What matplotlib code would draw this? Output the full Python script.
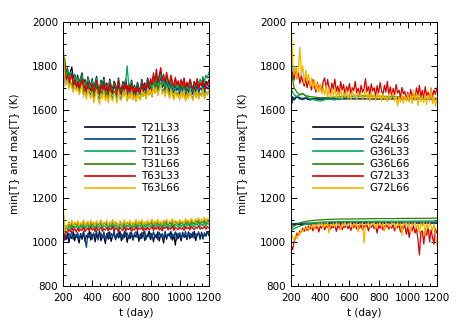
import numpy as np
import matplotlib
matplotlib.use('Agg')
import matplotlib.pyplot as plt
from matplotlib.ticker import MultipleLocator

# time axes (days)
t = np.arange(200, 1201, 10)
t_smooth = [200, 205, 210, 220, 240, 260, 280, 300, 330, 360, 400, 450,
            500, 550, 600, 700, 800, 900, 1000, 1100, 1200]

colors = ['#000028', '#00407f', '#00a84f', '#2f7f00', '#d80000', '#f2b400']

# left panel: spectral models, max{T}
left_names = ['T21L33', 'T21L66', 'T31L33', 'T31L66', 'T63L33', 'T63L66']
T21L33_max = [1770, 1835, 1765, 1790, 1748, 1772, 1795, 1740, 1762, 1730,
              1758, 1722, 1745, 1768, 1715, 1738, 1702, 1750, 1726, 1710,
              1742, 1698, 1725, 1752, 1705, 1690, 1735, 1712, 1748, 1700,
              1722, 1688, 1740, 1708, 1695, 1730, 1715, 1685, 1745, 1702,
              1690, 1728, 1710, 1740, 1685, 1720, 1698, 1735, 1690, 1712,
              1682, 1725, 1700, 1690, 1738, 1705, 1722, 1695, 1745, 1712,
              1730, 1702, 1755, 1720, 1765, 1712, 1748, 1770, 1725, 1740,
              1710, 1752, 1728, 1705, 1745, 1718, 1698, 1738, 1710, 1725,
              1695, 1732, 1708, 1740, 1690, 1722, 1700, 1735, 1715, 1692,
              1728, 1705, 1740, 1698, 1722, 1712, 1745, 1700, 1730, 1718,
              1735]
T21L66_max = [1655, 1790, 1735, 1760, 1720, 1745, 1768, 1712, 1738, 1705,
              1730, 1698, 1722, 1745, 1690, 1715, 1680, 1728, 1702, 1688,
              1720, 1675, 1702, 1730, 1684, 1668, 1712, 1690, 1726, 1678,
              1700, 1665, 1718, 1686, 1672, 1708, 1694, 1662, 1722, 1680,
              1668, 1706, 1688, 1718, 1662, 1698, 1676, 1712, 1668, 1690,
              1660, 1702, 1678, 1668, 1715, 1682, 1700, 1672, 1722, 1690,
              1708, 1680, 1732, 1698, 1742, 1690, 1725, 1748, 1702, 1718,
              1688, 1730, 1705, 1682, 1722, 1695, 1676, 1715, 1688, 1702,
              1672, 1710, 1686, 1718, 1668, 1700, 1678, 1712, 1692, 1670,
              1705, 1682, 1718, 1676, 1700, 1690, 1722, 1678, 1708, 1695,
              1712]
T31L33_max = [1880, 1810, 1752, 1785, 1738, 1770, 1745, 1722, 1760, 1732,
              1748, 1715, 1740, 1760, 1708, 1730, 1695, 1745, 1718, 1702,
              1735, 1690, 1718, 1745, 1698, 1682, 1728, 1705, 1740, 1692,
              1715, 1680, 1732, 1700, 1688, 1722, 1708, 1678, 1738, 1695,
              1682, 1720, 1702, 1732, 1800, 1712, 1690, 1728, 1682, 1705,
              1675, 1718, 1692, 1684, 1730, 1698, 1715, 1688, 1738, 1705,
              1722, 1695, 1748, 1712, 1758, 1705, 1740, 1762, 1718, 1732,
              1702, 1745, 1720, 1698, 1738, 1710, 1690, 1730, 1702, 1718,
              1688, 1725, 1700, 1732, 1684, 1715, 1694, 1728, 1708, 1686,
              1722, 1700, 1735, 1712, 1740, 1720, 1752, 1730, 1758, 1745,
              1770]
T31L66_max = [1850, 1770, 1718, 1748, 1705, 1730, 1712, 1690, 1722, 1698,
              1712, 1680, 1705, 1725, 1672, 1695, 1662, 1708, 1682, 1668,
              1700, 1655, 1682, 1708, 1662, 1648, 1690, 1670, 1704, 1658,
              1680, 1646, 1696, 1666, 1652, 1686, 1672, 1642, 1700, 1660,
              1648, 1686, 1668, 1696, 1642, 1676, 1656, 1690, 1648, 1670,
              1640, 1682, 1658, 1648, 1694, 1662, 1680, 1652, 1700, 1668,
              1686, 1660, 1710, 1676, 1720, 1668, 1704, 1722, 1680, 1695,
              1666, 1706, 1684, 1660, 1700, 1672, 1652, 1692, 1664, 1680,
              1650, 1688, 1662, 1694, 1646, 1678, 1656, 1690, 1668, 1648,
              1682, 1660, 1694, 1652, 1676, 1664, 1698, 1654, 1684, 1670,
              1688]
T63L33_max = [1810, 1775, 1738, 1762, 1722, 1748, 1765, 1712, 1736, 1705,
              1730, 1698, 1722, 1742, 1690, 1712, 1684, 1728, 1700, 1688,
              1718, 1680, 1704, 1732, 1688, 1676, 1715, 1694, 1728, 1684,
              1705, 1675, 1722, 1692, 1680, 1714, 1700, 1672, 1730, 1688,
              1678, 1712, 1695, 1724, 1674, 1706, 1686, 1720, 1678, 1698,
              1672, 1708, 1688, 1680, 1722, 1694, 1712, 1686, 1735, 1705,
              1742, 1715, 1768, 1728, 1785, 1722, 1760, 1792, 1735, 1762,
              1725, 1770, 1740, 1712, 1758, 1728, 1702, 1748, 1716, 1732,
              1698, 1738, 1712, 1745, 1694, 1726, 1704, 1740, 1716, 1692,
              1728, 1702, 1742, 1696, 1720, 1708, 1738, 1694, 1722, 1710,
              1730]
T63L66_max = [1905, 1760, 1712, 1738, 1695, 1722, 1700, 1678, 1712, 1685,
              1700, 1668, 1690, 1712, 1658, 1682, 1648, 1692, 1666, 1652,
              1680, 1632, 1662, 1690, 1645, 1625, 1672, 1650, 1688, 1640,
              1665, 1632, 1682, 1652, 1640, 1676, 1660, 1630, 1690, 1648,
              1642, 1680, 1660, 1692, 1638, 1672, 1652, 1688, 1644, 1666,
              1640, 1678, 1654, 1645, 1690, 1660, 1676, 1650, 1698, 1668,
              1690, 1664, 1712, 1678, 1702, 1666, 1692, 1715, 1672, 1688,
              1660, 1700, 1676, 1652, 1694, 1666, 1645, 1686, 1658, 1674,
              1644, 1682, 1656, 1690, 1640, 1672, 1650, 1684, 1662, 1642,
              1678, 1654, 1690, 1648, 1672, 1660, 1694, 1650, 1680, 1666,
              1690]

# left panel: min{T}
T21L33_min = [1000, 1035, 1010, 1042, 998, 1028, 1015, 1046, 1005, 1032,
              1020, 995, 1038, 1012, 1044, 1002, 1030, 1018, 1048, 1008,
              1026, 1040, 1000, 1034, 1015, 1050, 1005, 1030, 1022, 992,
              1038, 1012, 1045, 1002, 1028, 1040, 1010, 1036, 1018, 1048,
              1005, 1032, 1020, 1046, 998, 1030, 1014, 1042, 1008, 1035,
              1022, 1048, 1002, 1036, 1016, 1044, 1006, 1030, 1024, 1050,
              1010, 1038, 1000, 1032, 1018, 1046, 1004, 1034, 1020, 995,
              1042, 1012, 1036, 1026, 1048, 1008, 1030, 985, 1040, 1016,
              1034, 1004, 1044, 1020, 1030, 1010, 1046, 1014, 1036, 1022,
              1048, 1006, 1032, 1040, 1012, 1044, 1018, 1036, 1026, 1046,
              1030]
T21L66_min = [1045, 1008, 1030, 1015, 1040, 1022, 1048, 1012, 1036, 1020,
              1042, 1010, 1034, 1026, 1046, 1016, 975, 1038, 1020, 1044,
              1012, 1036, 1024, 1050, 1008, 1032, 1040, 1018, 1046, 1014,
              1030, 1044, 1016, 1038, 1022, 1050, 1010, 1034, 1042, 1020,
              1036, 1012, 1048, 1024, 1040, 1016, 1044, 1028, 1010, 1038,
              1046, 1020, 1032, 1014, 1042, 1026, 1050, 1012, 1036, 1022,
              1040, 1016, 1046, 1028, 1034, 1010, 1044, 1024, 1038, 1018,
              1048, 1022, 1030, 1040, 1014, 1036, 1026, 1046, 1008, 1034,
              1042, 1018, 1036, 1024, 1048, 1012, 1032, 1040, 1020, 1044,
              1016, 1038, 1028, 1046, 1022, 1034, 1012, 1042, 1030, 1048,
              1036]
T31L33_min = [1150, 1045, 1068, 1055, 1076, 1060, 1082, 1058, 1072, 1064,
              1080, 1056, 1074, 1062, 1084, 1058, 1070, 1078, 1060, 1082,
              1066, 1076, 1056, 1080, 1064, 1072, 1084, 1060, 1074, 1068,
              1082, 1058, 1076, 1066, 1086, 1062, 1078, 1070, 1056, 1080,
              1072, 1064, 1084, 1060, 1076, 1068, 1082, 1058, 1074, 1066,
              1086, 1062, 1078, 1070, 1084, 1060, 1076, 1064, 1082, 1068,
              1074, 1088, 1062, 1080, 1070, 1084, 1066, 1078, 1060, 1082,
              1072, 1086, 1064, 1076, 1068, 1088, 1062, 1080, 1074, 1066,
              1084, 1070, 1078, 1064, 1086, 1072, 1082, 1066, 1088, 1074,
              1068, 1084, 1076, 1090, 1070, 1082, 1074, 1088, 1072, 1086,
              1080]
T31L66_min = [1060, 1052, 1075, 1068, 1088, 1072, 1094, 1070, 1086, 1076,
              1092, 1068, 1084, 1074, 1096, 1070, 1082, 1090, 1072, 1094,
              1078, 1088, 1068, 1092, 1076, 1084, 1096, 1072, 1086, 1080,
              1094, 1070, 1088, 1078, 1098, 1074, 1090, 1082, 1068, 1092,
              1084, 1076, 1096, 1072, 1088, 1080, 1094, 1070, 1086, 1078,
              1098, 1074, 1090, 1082, 1096, 1072, 1088, 1076, 1094, 1080,
              1086, 1100, 1074, 1092, 1082, 1096, 1078, 1090, 1072, 1094,
              1084, 1098, 1076, 1088, 1080, 1100, 1074, 1092, 1086, 1078,
              1096, 1082, 1090, 1076, 1098, 1084, 1094, 1078, 1100, 1086,
              1080, 1096, 1088, 1102, 1082, 1094, 1086, 1100, 1084, 1098,
              1092]
T63L33_min = [995, 1030, 1048, 1040, 1058, 1046, 1064, 1050, 1060, 1044,
              1062, 1048, 1058, 1052, 1066, 1046, 1056, 1064, 1050, 1068,
              1054, 1062, 1046, 1066, 1052, 1058, 1068, 1048, 1060, 1054,
              1066, 1050, 1062, 1056, 1070, 1048, 1064, 1058, 1046, 1066,
              1058, 1052, 1068, 1050, 1062, 1056, 1066, 1048, 1060, 1054,
              1070, 1052, 1064, 1058, 1068, 1050, 1062, 1054, 1066, 1056,
              1060, 1072, 1052, 1066, 1058, 1070, 1054, 1064, 1050, 1068,
              1062, 1070, 1054, 1064, 1058, 1072, 1052, 1066, 1060, 1056,
              1068, 1058, 1064, 1052, 1070, 1060, 1066, 1054, 1072, 1062,
              1056, 1068, 1062, 1074, 1058, 1066, 1060, 1072, 1058, 1070,
              1064]
T63L66_min = [1170, 1050, 1075, 1068, 1092, 1078, 1098, 1074, 1090, 1080,
              1096, 1072, 1088, 1078, 1100, 1074, 1086, 1094, 1076, 1098,
              1082, 1092, 1072, 1096, 1080, 1088, 1100, 1076, 1090, 1084,
              1098, 1074, 1092, 1082, 1102, 1078, 1094, 1086, 1072, 1096,
              1088, 1080, 1100, 1076, 1092, 1084, 1098, 1074, 1090, 1082,
              1102, 1078, 1094, 1086, 1100, 1076, 1092, 1080, 1098, 1084,
              1090, 1104, 1080, 1096, 1086, 1102, 1082, 1094, 1078, 1100,
              1090, 1104, 1082, 1096, 1088, 1106, 1080, 1098, 1092, 1084,
              1102, 1088, 1096, 1082, 1106, 1092, 1100, 1086, 1108, 1094,
              1088, 1106, 1096, 1110, 1090, 1104, 1094, 1112, 1092, 1108,
              1100]

# right panel: grid-point models (G24/G36 smooth, on t_smooth)
right_names = ['G24L33', 'G24L66', 'G36L33', 'G36L66', 'G72L33', 'G72L66']
G24L33_max = [1640, 1630, 1655, 1645, 1660, 1650, 1648, 1652, 1645, 1650, 1648,
              1650, 1649, 1650, 1650, 1650, 1649, 1650, 1650, 1648, 1648]
G24L66_max = [1650, 1640, 1660, 1652, 1662, 1655, 1652, 1655, 1650, 1652, 1650,
              1651, 1650, 1651, 1652, 1652, 1651, 1651, 1650, 1650, 1650]
G36L33_max = [1700, 1690, 1680, 1670, 1660, 1670, 1675, 1662, 1650, 1645, 1640,
              1650, 1645, 1655, 1660, 1662, 1660, 1658, 1655, 1652, 1650]
G36L66_max = [1880, 1800, 1740, 1700, 1680, 1668, 1672, 1665, 1660, 1658, 1655,
              1656, 1658, 1660, 1662, 1664, 1662, 1660, 1656, 1654, 1652]
G24L33_min = [1075, 1076, 1077, 1078, 1079, 1080, 1080, 1081, 1081, 1082, 1082,
              1083, 1083, 1083, 1084, 1084, 1084, 1085, 1085, 1085, 1085]
G24L66_min = [1082, 1082, 1083, 1083, 1084, 1084, 1085, 1085, 1086, 1086, 1087,
              1087, 1088, 1088, 1088, 1089, 1089, 1089, 1090, 1090, 1090]
G36L33_min = [1050, 1052, 1055, 1060, 1066, 1072, 1076, 1080, 1084, 1087, 1090,
              1091, 1092, 1092, 1093, 1093, 1094, 1094, 1094, 1095, 1095]
G36L66_min = [1060, 1062, 1066, 1072, 1080, 1086, 1090, 1093, 1096, 1098, 1100,
              1102, 1103, 1104, 1104, 1105, 1106, 1106, 1107, 1107, 1108]

# G72 noisy, on t
G72L33_max = [1750, 1770, 1735, 1795, 1742, 1768, 1720, 1755, 1728, 1708,
              1745, 1700, 1732, 1715, 1690, 1738, 1705, 1680, 1725, 1696,
              1712, 1682, 1730, 1745, 1690, 1738, 1702, 1678, 1722, 1694,
              1740, 1685, 1708, 1672, 1728, 1690, 1715, 1668, 1705, 1684,
              1720, 1674, 1700, 1688, 1730, 1676, 1698, 1665, 1712, 1680,
              1695, 1742, 1682, 1706, 1670, 1718, 1686, 1700, 1662, 1710,
              1676, 1724, 1688, 1668, 1712, 1680, 1730, 1672, 1704, 1660,
              1698, 1668, 1715, 1676, 1690, 1656, 1702, 1672, 1684, 1650,
              1680, 1640, 1692, 1662, 1675, 1648, 1700, 1666, 1712, 1658,
              1688, 1650, 1705, 1664, 1680, 1646, 1698, 1660, 1690, 1670,
              1700]
G72L66_max = [2000, 1830, 1760, 1800, 1740, 1790, 1885, 1760, 1800, 1720,
              1780, 1730, 1760, 1705, 1745, 1700, 1735, 1690, 1720, 1680,
              1715, 1672, 1700, 1668, 1712, 1660, 1695, 1656, 1688, 1664,
              1700, 1655, 1685, 1662, 1694, 1650, 1680, 1658, 1690, 1652,
              1676, 1648, 1688, 1660, 1670, 1645, 1684, 1656, 1672, 1650,
              1666, 1690, 1648, 1676, 1640, 1680, 1652, 1670, 1644, 1675,
              1650, 1668, 1640, 1674, 1648, 1662, 1638, 1670, 1646, 1660,
              1680, 1640, 1664, 1618, 1658, 1636, 1670, 1630, 1662, 1640,
              1672, 1635, 1665, 1628, 1690, 1642, 1676, 1620, 1668, 1638,
              1660, 1632, 1674, 1625, 1668, 1640, 1700, 1628, 1660, 1615,
              1650]
G72L33_min = [985, 965, 1000, 1020, 1040, 1030, 1050, 1045, 1062, 1048,
              1068, 1052, 1072, 1058, 1075, 1050, 1070, 1060, 1076, 1045,
              1072, 1062, 1078, 1055, 1074, 1066, 1078, 1058, 1072, 1064,
              1078, 1048, 1074, 1062, 1080, 1056, 1072, 1066, 1078, 1060,
              1074, 1052, 1078, 1064, 1080, 1058, 1074, 1062, 1078, 1055,
              1076, 1064, 1080, 1050, 1074, 1066, 1078, 1060, 1072, 1040,
              1076, 1062, 1080, 1054, 1074, 1066, 1078, 1058, 1072, 1062,
              1078, 1050, 1074, 1064, 1080, 1045, 1072, 1060, 1078, 1035,
              1070, 1020, 1066, 1050, 1075, 1040, 1060, 1010, 940, 1045,
              1050, 990, 1060, 1030, 1068, 1000, 1055, 1020, 990, 1060,
              1040]
G72L66_min = [1040, 1020, 1005, 1030, 1015, 1045, 1035, 1055, 1048, 1062,
              1058, 1070, 1050, 1076, 1064, 1080, 1056, 1082, 1070, 1084,
              1075, 1086, 1062, 1084, 1072, 1088, 1040, 1082, 1074, 1086,
              1068, 1088, 1078, 1084, 1055, 1086, 1076, 1088, 1070, 1084,
              1080, 1088, 1062, 1086, 1074, 1088, 1045, 1084, 1078, 1088,
              995, 1084, 1076, 1088, 1068, 1086, 1080, 1088, 1060, 1084,
              1078, 1088, 1070, 1086, 1050, 1088, 1076, 1084, 1066, 1088,
              1080, 1086, 1060, 1088, 1074, 1084, 1030, 1086, 1078, 1088,
              1070, 1086, 1045, 1084, 1076, 1088, 1064, 1082, 1040, 1086,
              1072, 1088, 1025, 1084, 1060, 1086, 1074, 1050, 1082, 1035,
              985]

left_series = [
    (t, T21L33_max, T21L33_min),
    (t, T21L66_max, T21L66_min),
    (t, T31L33_max, T31L33_min),
    (t, T31L66_max, T31L66_min),
    (t, T63L33_max, T63L33_min),
    (t, T63L66_max, T63L66_min),
]
right_series = [
    (t_smooth, G24L33_max, G24L33_min),
    (t_smooth, G24L66_max, G24L66_min),
    (t_smooth, G36L33_max, G36L33_min),
    (t_smooth, G36L66_max, G36L66_min),
    (t, G72L33_max, G72L33_min),
    (t, G72L66_max, G72L66_min),
]

fig = plt.figure(figsize=(4.57, 3.26), dpi=100)
ax1 = fig.add_axes([0.138, 0.123, 0.319, 0.810])
ax2 = fig.add_axes([0.637, 0.123, 0.319, 0.810])

fs = 7.5
for ax, series, names in [(ax1, left_series, left_names), (ax2, right_series, right_names)]:
    for (tt, hi, lo), c, name in zip(series, colors, names):
        ax.plot(tt, hi, color=c, lw=0.9, label=name)
        ax.plot(tt, lo, color=c, lw=0.9)
    ax.set_xlim(200, 1200)
    ax.set_ylim(800, 2000)
    ax.xaxis.set_major_locator(MultipleLocator(200))
    ax.xaxis.set_minor_locator(MultipleLocator(50))
    ax.yaxis.set_major_locator(MultipleLocator(200))
    ax.yaxis.set_minor_locator(MultipleLocator(50))
    ax.tick_params(which='both', direction='in', top=True, right=True, labelsize=fs, width=0.7)
    ax.tick_params(which='major', length=4)
    ax.tick_params(which='minor', length=2)
    ax.tick_params(axis='x', which='major', pad=5)
    for s in ax.spines.values():
        s.set_linewidth(0.7)
    ax.set_xlabel('t (day)', fontsize=fs, labelpad=4)
    ax.set_ylabel('min[T} and max[T} (K)', fontsize=fs, labelpad=9)
    leg = ax.legend(loc='upper left', bbox_to_anchor=(0.15, 0.617), frameon=False,
                    fontsize=fs, handlelength=4.8, handletextpad=0.6,
                    labelspacing=0.2, borderpad=0, borderaxespad=0)
    for ln in leg.get_lines():
        ln.set_linewidth(1.2)

fig.savefig('out.png', dpi=100)
